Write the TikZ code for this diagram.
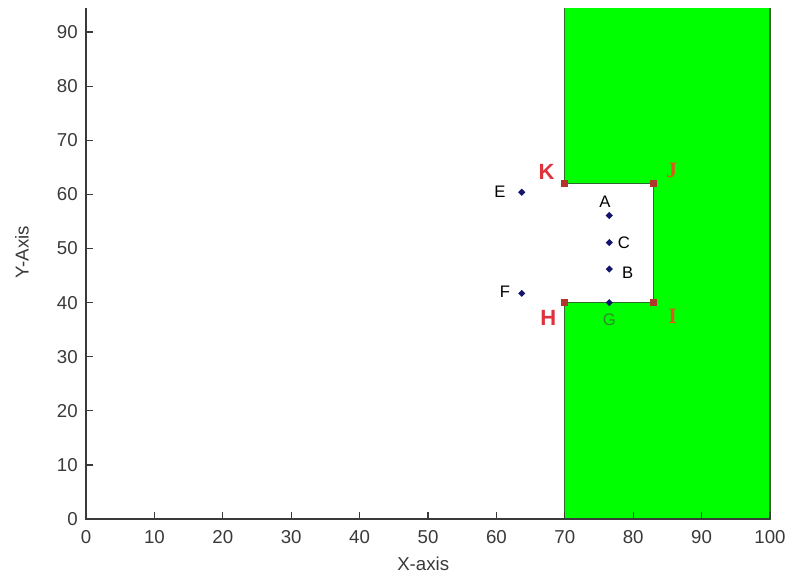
\documentclass[tikz,border=0pt]{standalone}
\usepackage{fontspec}
\setmainfont{Liberation Sans}
\newfontfamily\serifb{Liberation Serif}
\usetikzlibrary{shapes.geometric}
\definecolor{patchgreen}{HTML}{00FF00}
\definecolor{edgegreen}{HTML}{2E6B2E}
\definecolor{axisgray}{HTML}{3A3A3A}
\definecolor{ptblue}{HTML}{14146E}
\definecolor{sqred}{HTML}{B0352A}
\definecolor{lblred}{HTML}{E0323C}
\definecolor{lblorange}{HTML}{E2561E}
\definecolor{lblgreen}{HTML}{2E8B2E}
\begin{document}
\begin{tikzpicture}[x=5.13pt,y=4.0575pt,
  axisline/.style={draw=axisgray,line width=1pt},
  ticklbl/.style={inner sep=0pt,text=axisgray,font=\fontsize{14}{16}\selectfont},
  ptmark/.style={diamond,fill=ptblue,inner sep=0pt,minimum size=5.5pt},
  cornermark/.style={rectangle,fill=sqred,inner sep=0pt,minimum size=5pt},
  ptlbl/.style={inner sep=0pt,text=black,font=\fontsize{12.5}{14}\selectfont},
  cornerlblsans/.style={inner sep=0pt,text=lblred,font=\fontsize{16.5}{18}\selectfont\bfseries},
  cornerlblserif/.style={inner sep=0pt,text=lblorange,font=\fontsize{16.5}{18}\selectfont\serifb\bfseries},
  axlbl/.style={inner sep=0pt,text=axisgray,font=\fontsize{14}{16}\selectfont}]
\useasboundingbox (-12.573,-10.536) rectangle (102.19,95.933);
\fill[white] (-12.573,-10.536) rectangle (102.19,95.933);
% corners
\coordinate (K) at (70,62);
\coordinate (J) at (83,62);
\coordinate (I) at (83,40);
\coordinate (H) at (70,40);
% green region
\fill[patchgreen] (70,0) -- (100,0) -- (100,94.45) -- (70,94.45) -- (K) -- (J) -- (I) -- (H) -- cycle;
\draw[edgegreen,line width=1pt] (70,94.45) -- (K) -- (J) -- (I) -- (H) -- (70,0) -- (100,0) -- (100,94.45);
% axes
\draw[axisline] (0,94.45) -- (0,0) -- (100,0);
\foreach \i in {0,10,...,100} {
  \draw[axisline] (\i,0) -- ++(0,5.25pt);
  \node[ticklbl] at ([yshift=-13.3pt]\i,0) {\i};
}
\foreach \j in {0,10,...,90} {
  \draw[axisline] (0,\j) -- ++(5.25pt,0);
  \node[ticklbl,anchor=east] at ([xshift=-6pt]0,\j) {\j};
}
\node[axlbl] (xlab) at (49.3,-8.32) {X-axis};
\node[axlbl,rotate=90] (ylab) at (-9.36,49.35) {Y-Axis};
% corner markers
\node[cornermark] (mK) at (K) {};
\node[cornermark] (mJ) at (J) {};
\node[cornermark] (mI) at (I) {};
\node[cornermark] (mH) at (H) {};
\node[cornerlblsans] (lK) at (67.34,64.2) {K};
\node[cornerlblsans] (lH) at (67.59,37.1) {H};
\node[cornerlblserif] (lJ) at (85.63,64.5) {J};
\node[cornerlblserif] (lI) at (85.77,37.4) {I};
% points
\node[ptmark] (pE) at (63.7,60.4) {};
\node[ptmark] (pF) at (63.7,41.7) {};
\node[ptmark] (pA) at (76.5,56.1) {};
\node[ptmark] (pC) at (76.5,51.1) {};
\node[ptmark] (pB) at (76.5,46.2) {};
\node[ptmark] (pG) at (76.5,40.0) {};
\node[ptlbl] (lE) at (60.5,60.5) {E};
\node[ptlbl] (lF) at (61.26,42.0) {F};
\node[ptlbl] (lA) at (75.88,58.65) {A};
\node[ptlbl] (lC) at (78.65,51.0) {C};
\node[ptlbl] (lB) at (79.2,45.5) {B};
\node[ptlbl,text=lblgreen] (lG) at (76.5,36.8) {G};
\end{tikzpicture}
\end{document}
